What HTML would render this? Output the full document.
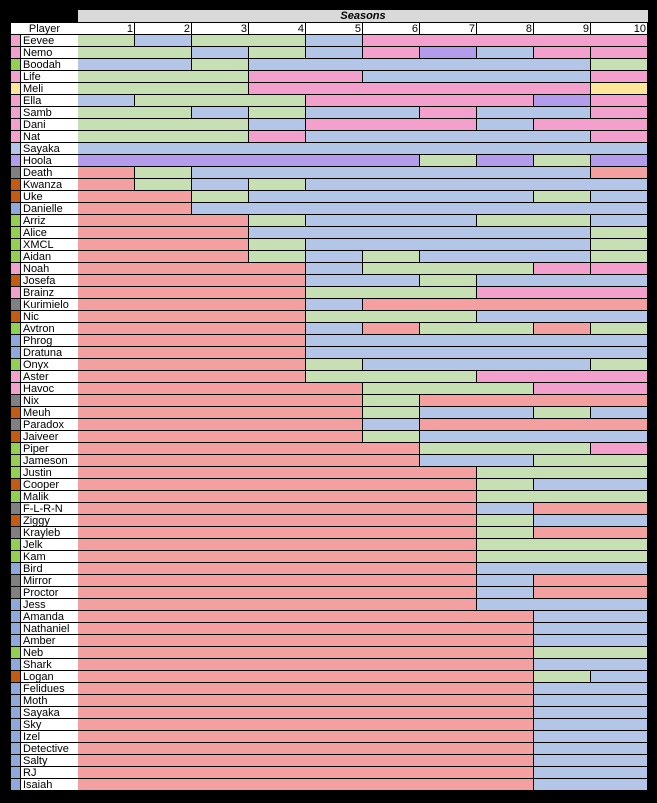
<!DOCTYPE html>
<html><head><meta charset="utf-8"><style>
html,body{margin:0;padding:0;background:#000;}
#c{position:relative;width:657px;height:803px;background:#000;overflow:hidden;font-family:"Liberation Sans",sans-serif;font-size:11px;color:#000;}
#c div{position:absolute;box-sizing:border-box;line-height:12px;white-space:nowrap;overflow:hidden;}
</style></head><body><div id="c"></div>
<script>
var C={G:'#c6e0b4',B:'#b4c6e7',P:'#f4a0cc',V:'#b49cec',R:'#f4a0a0',Y:'#ffe699'};
var L={p:'#f4a0cc',g:'#92d050',y:'#ffe699',s:'#b4c6e7',v:'#b49cec',d:'#808080',o:'#c55a11',b:'#8eaadb'};
var rows=[
['Eevee','p','G1 B1 G2 B1 P5'],['Nemo','p','G2 B1 G1 B1 P1 V1 B1 P1 P1'],['Boodah','g','B2 G1 B6 G1'],
['Life','p','G3 P2 B4 P1'],['Meli','y','G3 P6 Y1'],['Ella','p','B1 G3 P4 V1 P1'],
['Samb','p','G2 B1 G1 B2 P1 B2 P1'],['Dani','p','G3 B1 P3 B1 P2'],['Nat','p','G3 P1 B5 P1'],
['Sayaka','s','B10'],['Hoola','v','V6 G1 V1 G1 V1'],['Death','d','R1 G1 B7 R1'],
['Kwanza','o','R1 G1 B1 G1 B6'],['Uke','o','R2 G1 B5 G1 B1'],['Danielle','b','R2 B8'],
['Arriz','g','R3 G1 B3 G2 B1'],['Alice','g','R3 B6 G1'],['XMCL','g','R3 G1 B5 G1'],
['Aidan','g','R3 G1 B1 G1 B3 G1'],['Noah','p','R4 B1 G3 P1 P1'],['Josefa','o','R4 B2 G1 B3'],
['Brainz','p','R4 G3 P3'],['Kurimielo','d','R4 B1 R5'],['Nic','o','R4 G3 B3'],
['Avtron','g','R4 B1 R1 G2 R1 G1'],['Phrog','b','R4 B6'],['Dratuna','b','R4 B6'],
['Onyx','g','R4 G1 B4 G1'],['Aster','p','R4 G3 P3'],['Havoc','p','R5 G3 P2'],
['Nix','d','R5 G1 R4'],['Meuh','o','R5 G1 B2 G1 B1'],['Paradox','d','R5 B1 R4'],
['Jaiveer','o','R5 G1 B4'],['Piper','g','R6 G3 P1'],['Jameson','g','R6 B2 G2'],
['Justin','g','R7 G3'],['Cooper','o','R7 G1 B2'],['Malik','g','R7 G3'],
['F-L-R-N','d','R7 B1 R2'],['Ziggy','o','R7 G1 B2'],['Krayleb','d','R7 G1 R2'],
['Jelk','g','R7 G3'],['Kam','g','R7 G3'],['Bird','b','R7 B3'],
['Mirror','d','R7 B1 R2'],['Proctor','d','R7 B1 R2'],['Jess','b','R7 B3'],
['Amanda','b','R8 B2'],['Nathaniel','b','R8 B2'],['Amber','b','R8 B2'],
['Neb','g','R8 G2'],['Shark','b','R8 B2'],['Logan','o','R8 G1 B1'],
['Felidues','b','R8 B2'],['Moth','b','R8 B2'],['Sayaka','b','R8 B2'],
['Sky','b','R8 B2'],['Izel','b','R8 B2'],['Detective','b','R8 B2'],
['Salty','b','R8 B2'],['RJ','b','R8 B2'],['Isaiah','b','R8 B2']];
var h='';
function d(x,y,w,hh,bg,extra,txt){h+='<div style="left:'+x+'px;top:'+y+'px;width:'+w+'px;height:'+hh+'px;background:'+bg+';'+(extra||'')+'">'+(txt||'')+'</div>';}
d(78,10,570,12,'#d9d9d9','text-align:center;font-weight:bold;font-style:italic;','Seasons');
d(11,23,67,11,'#fff','text-align:center;','Player');
for(var i=0;i<10;i++)d(78+57*i,23,56,11,'#fff','text-align:right;padding-right:1px;',String(i+1));
rows.forEach(function(r,k){
  var y=35+12*k;
  d(11,y,9,11,L[r[1]]);
  d(21,y,57,11,'#fff','padding-left:2px;',r[0]);
  var col=0;
  r[2].split(' ').forEach(function(s){
    var n=parseInt(s.slice(1));
    d(78+57*col,y,57*n-1,11,C[s[0]]);
    col+=n;
  });
});
document.getElementById('c').innerHTML=h;
</script></body></html>
